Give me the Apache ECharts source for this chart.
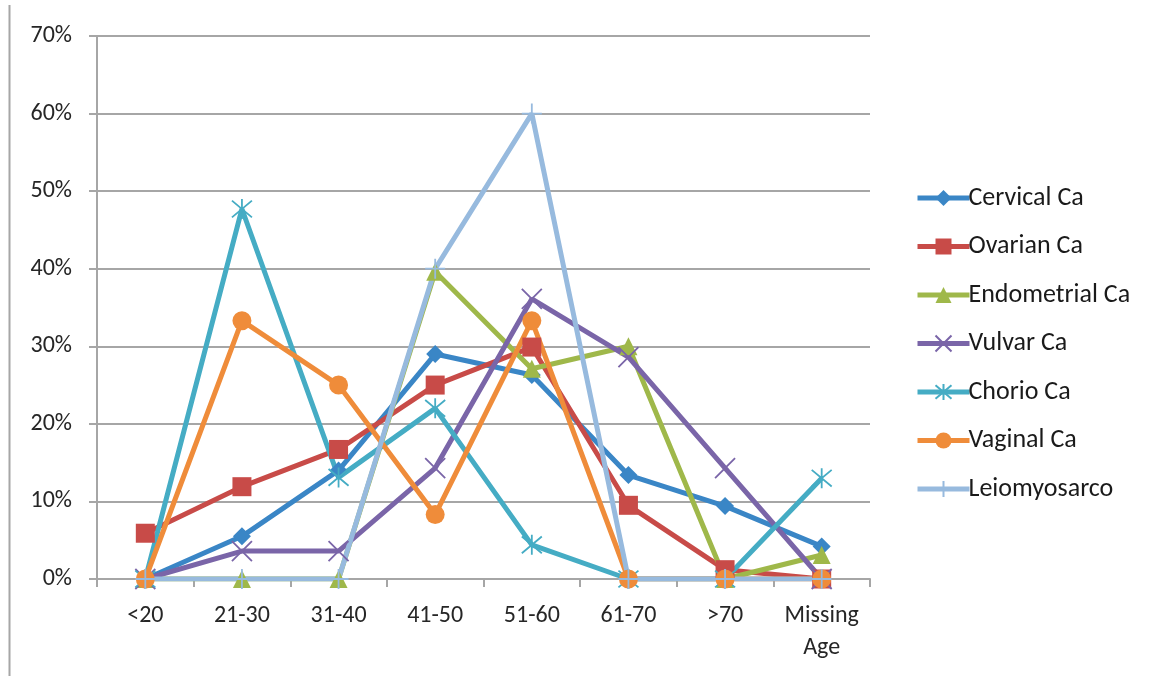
<!DOCTYPE html>
<html><head><meta charset="utf-8">
<script src="https://cdn.jsdelivr.net/npm/echarts@6/dist/echarts.min.js"></script>
<style>html,body{margin:0;padding:0;background:#fff}#c{width:1160px;height:676px}</style>
</head><body><div id="c"></div>
<script>
const categories = ['<20','21-30','31-40','41-50','51-60','61-70','>70','Missing\nAge'];
const yTicks = [0,10,20,30,40,50,60,70];
const cervical = [0, 5.5, 14.0, 29.0, 26.3, 13.4, 9.4, 4.2];
const ovarian = [5.9, 11.9, 16.7, 25.0, 29.9, 9.5, 1.2, 0];
const endometrial = [0, 0, 0, 39.6, 27.1, 30.0, 0, 3.1];
const vulvar = [0, 3.6, 3.6, 14.3, 36.1, 28.6, 14.3, 0];
const chorio = [0, 47.7, 13.1, 22.0, 4.4, 0, 0, 13.0];
const vaginal = [0, 33.3, 25.0, 8.3, 33.3, 0, 0, 0];
const leiomyosarco = [0, 0, 0, 40.0, 60.0, 0, 0, 0];

const FONT = 'Carlito, Lato, "Open Sans", sans-serif';
const xPath = 'path://M0,0L10,10M10,0L0,10';
const starPath = 'path://M0,0L10,10M10,0L0,10M5,-1L5,11';
const plusPath = 'path://M5,0L5,10M0,5L10,5';

function mk(name, data, color, symbol, size, strokeSym) {
  const s = {
    name, type: 'line', data, symbol, symbolSize: size,
    lineStyle: { color, width: 5 },
    itemStyle: { color },
    emphasis: { disabled: true },
    animation: false
  };
  if (strokeSym) {
    s.itemStyle = { color: 'none', borderColor: color, borderWidth: 1.8 };
  }
  return s;
}

const chart = echarts.init(document.getElementById('c'));
chart.setOption({
  backgroundColor: '#fff',
  animation: false,
  grid: { left: 97, right: 290, top: 36, bottom: 97, containLabel: false },
  graphic: [{ type: 'line', shape: { x1: 9.5, y1: 5, x2: 9.5, y2: 676 }, style: { stroke: '#a6a6a6', lineWidth: 2 } }],
  legend: {
    orient: 'vertical', left: 910, top: 180,
    itemWidth: 52, itemHeight: 20, itemGap: 22.5,
    lineStyle: { width: 5 },
    textStyle: { fontFamily: FONT, fontSize: 26, lineHeight: 26, color: '#1a1a1a', padding: [0,0,0,-6] },
    data: ['Cervical Ca','Ovarian Ca','Endometrial Ca','Vulvar Ca','Chorio Ca','Vaginal Ca','Leiomyosarco']
  },
  xAxis: {
    type: 'category', data: categories, boundaryGap: true,
    axisLine: { lineStyle: { color: '#a6a6a6', width: 2 } },
    axisTick: { show: true, interval: 0, length: 8, lineStyle: { color: '#a6a6a6', width: 2 } },
    axisLabel: { fontFamily: FONT, fontSize: 24, color: '#262626', margin: 21, lineHeight: 32, interval: 0 }
  },
  yAxis: {
    type: 'value', min: 0, max: 70, interval: 10,
    axisLine: { show: true, lineStyle: { color: '#a6a6a6', width: 2 } },
    axisTick: { show: true, length: 8, lineStyle: { color: '#a6a6a6', width: 2 } },
    splitLine: { lineStyle: { color: '#a6a6a6', width: 2 } },
    axisLabel: { fontFamily: FONT, fontSize: 24, color: '#262626', margin: 25,
      formatter: v => (yTicks.includes(v) ? v + '%' : '') }
  },
  series: [
    mk('Cervical Ca', cervical, '#3A86C6', 'diamond', 18),
    mk('Ovarian Ca', ovarian, '#C84B48', 'rect', 19),
    mk('Endometrial Ca', endometrial, '#9FB84A', 'triangle', 18),
    mk('Vulvar Ca', vulvar, '#7A65A8', xPath, 20, true),
    mk('Chorio Ca', chorio, '#45ACC4', starPath, 20, true),
    mk('Vaginal Ca', vaginal, '#EF8C3A', 'circle', 19),
    mk('Leiomyosarco', leiomyosarco, '#97BADE', plusPath, 20, true)
  ]
});
</script></body></html>
